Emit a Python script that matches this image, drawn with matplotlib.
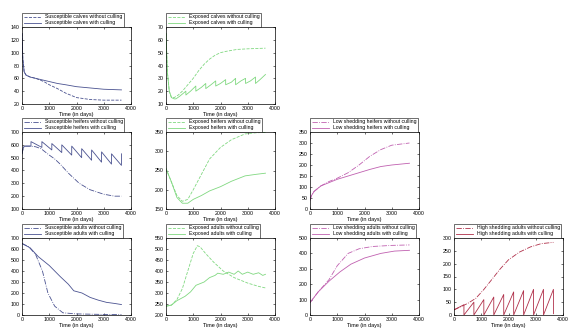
import numpy as np
import matplotlib
matplotlib.use("Agg")
import matplotlib.pyplot as plt

plt.rcParams['font.family'] = ['Liberation Sans', 'DejaVu Sans']

# susceptible calves
t_sc = [0, 30, 80, 150, 300, 500, 800, 1000, 1300, 1600, 2000, 2500, 3000, 3650]
sc_no = [130, 90, 70, 65, 62, 60, 55, 50, 44, 37, 30, 27, 26, 26]
sc_cu = [130, 90, 70, 65, 62, 60, 57, 55, 52, 50, 47, 45, 43, 42]

# exposed calves
t_ec = [0, 50, 120, 200, 300, 450, 600, 800, 1000, 1200, 1400, 1600, 1800, 2000, 2200, 2600, 3000, 3650]
ec_no = [65, 35, 20, 15, 15, 17, 20, 25, 30, 36, 41, 45, 48, 50, 51, 52.5, 53, 53.5]
t_ec2 = [0, 50, 120, 200, 300, 365, 500, 729, 730, 900, 1094, 1095, 1300, 1459, 1460, 1650, 1824, 1825,
         2000, 2189, 2190, 2400, 2554, 2555, 2750, 2919, 2920, 3100, 3284, 3285, 3450, 3650]
ec_cu = [65, 35, 20, 15, 14, 14, 16, 20, 17, 20, 24, 20, 23, 26, 22, 25, 28, 24,
         26, 29, 25, 27, 30, 25, 28, 30, 26, 28, 31, 26, 29, 33]

# susceptible heifers
t_sh = [0, 50, 100, 300, 500, 700, 1000, 1200, 1400, 1700, 2100, 2500, 3000, 3400, 3650]
sh_no = [530, 580, 590, 590, 585, 570, 520, 490, 450, 380, 300, 250, 215, 200, 200]
t_sh2 = [0, 50, 100, 329, 330, 729, 730, 1094, 1095, 1459, 1460, 1824, 1825, 2189, 2190,
         2554, 2555, 2919, 2920, 3284, 3285, 3649, 3650]
sh_cu = [530, 580, 590, 590, 625, 580, 625, 560, 610, 540, 600, 520, 590, 500, 570,
         480, 560, 465, 545, 450, 530, 440, 530]

# exposed heifers
t_eh = [0, 200, 400, 600, 800, 1000, 1300, 1600, 2000, 2400, 2900, 3300, 3650]
eh_no = [255, 220, 185, 170, 175, 200, 240, 280, 310, 330, 345, 348, 349]
eh_cu = [255, 220, 180, 165, 165, 175, 185, 197, 208, 222, 236, 240, 243]

# low shedding heifers
t_lh = [0, 50, 150, 400, 700, 1000, 1400, 1800, 2200, 2600, 3000, 3650]
lh_no = [40, 60, 80, 105, 125, 140, 165, 200, 240, 270, 290, 300]
lh_cu = [40, 60, 80, 105, 120, 135, 150, 165, 180, 193, 200, 208]

# susceptible adults
t_sa = [0, 250, 500, 750, 950, 1200, 1500, 2000, 3000, 3650]
sa_no = [650, 620, 550, 400, 200, 80, 20, 10, 5, 3]
t_sa2 = [0, 300, 600, 1000, 1400, 1700, 1900, 2200, 2500, 2800, 3100, 3400, 3650]
sa_cu = [650, 610, 530, 450, 350, 280, 220, 200, 160, 135, 115, 105, 95]

# exposed adults
t_ea = [0, 200, 400, 600, 800, 1000, 1150, 1250, 1450, 1750, 2100, 2500, 3000, 3400, 3650]
ea_no = [240, 245, 270, 320, 400, 480, 515, 510, 480, 440, 400, 370, 345, 330, 323]
t_ea2 = [0, 200, 400, 700, 900, 1100, 1400, 1600, 1800, 1900, 2100, 2300, 2500, 2650, 2800,
         3000, 3200, 3400, 3550, 3650]
ea_cu = [240, 245, 265, 285, 305, 335, 350, 370, 380, 390, 385, 395, 385, 400, 385,
         395, 385, 392, 380, 385]

# low shedding adults
t_la = [0, 300, 700, 1000, 1400, 1800, 2300, 3000, 3650]
la_no = [80, 150, 230, 320, 400, 430, 445, 452, 455]
t_la2 = [0, 300, 700, 1100, 1500, 2000, 2600, 3100, 3650]
la_cu = [80, 150, 220, 280, 330, 370, 400, 415, 420]

# high shedding adults
t_ha = [0, 200, 500, 800, 1100, 1400, 1700, 2000, 2400, 2800, 3200, 3650]
ha_no = [20, 30, 45, 65, 100, 140, 180, 215, 245, 265, 278, 283]
t_ha2 = [0, 364, 365, 729, 730, 1094, 1095, 1459, 1460, 1824, 1825, 2189, 2190,
         2554, 2555, 2919, 2920, 3284, 3285, 3649, 3650]
ha_cu = [20, 40, 0, 50, 0, 60, 0, 70, 0, 80, 0, 90, 0,
         95, 0, 100, 0, 100, 0, 100, 5]

blue = '#4a5290'
green = '#80d880'
mag = '#c060b0'
red = '#b0304a'

panels = [
    (0, 0, t_sc, sc_no, t_sc, sc_cu, blue, '--', 'Susceptible calves', (20, 140), np.arange(20, 141, 20)),
    (0, 1, t_ec, ec_no, t_ec2, ec_cu, green, '--', 'Exposed calves', (10, 70), np.arange(10, 71, 10)),
    (1, 0, t_sh, sh_no, t_sh2, sh_cu, blue, '-.', 'Susceptible heifers', (100, 700), np.arange(100, 701, 100)),
    (1, 1, t_eh, eh_no, t_eh, eh_cu, green, '--', 'Exposed heifers', (150, 350), np.arange(150, 351, 50)),
    (1, 2, t_lh, lh_no, t_lh, lh_cu, mag, '-.', 'Low shedding heifers', (0, 350), np.arange(0, 351, 50)),
    (2, 0, t_sa, sa_no, t_sa2, sa_cu, blue, '-.', 'Susceptible adults', (0, 700), np.arange(0, 701, 100)),
    (2, 1, t_ea, ea_no, t_ea2, ea_cu, green, '--', 'Exposed adults', (200, 550), np.arange(200, 551, 50)),
    (2, 2, t_la, la_no, t_la2, la_cu, mag, '-.', 'Low shedding adults', (0, 500), np.arange(0, 501, 100)),
    (2, 3, t_ha, ha_no, t_ha2, ha_cu, red, '-.', 'High shedding adults', (0, 300), np.arange(0, 301, 50)),
]

W, H = 585, 334
fig = plt.figure(figsize=(5.85, 3.34), dpi=100)
lefts = [22, 166, 310, 454]
tops = [27, 132, 238]
aw, ah = 109, 77

for r, c, t1, y1, t2, y2, col, ls, name, ylim, yt in panels:
    ax = fig.add_axes([lefts[c] / W, 1 - (tops[r] + ah) / H, aw / W, ah / H])
    ax.plot(t1, y1, color=col, ls=ls, lw=0.6, label=name + ' without culling')
    ax.plot(t2, y2, color=col, ls='-', lw=0.6, label=name + ' with culling')
    ax.set_xlim(0, 4000)
    ax.set_ylim(*ylim)
    ax.set_xticks(np.arange(0, 4001, 1000))
    ax.set_yticks(yt)
    ax.tick_params(direction='in', top=True, right=True, length=1.5, width=0.4,
                   labelsize=3.8, pad=1.5)
    for s in ax.spines.values():
        s.set_linewidth(0.5)
    ax.set_xlabel('Time (in days)', fontsize=4, labelpad=0.5)
    leg = ax.legend(loc='lower left', bbox_to_anchor=(0, 1), borderaxespad=0,
                    fontsize=3.7, handlelength=3.3, frameon=True, fancybox=False,
                    borderpad=0.3, labelspacing=0.2, handletextpad=0.8)
    leg.get_frame().set_edgecolor('black')
    leg.get_frame().set_linewidth(0.5)

fig.savefig('out.png', dpi=100)
